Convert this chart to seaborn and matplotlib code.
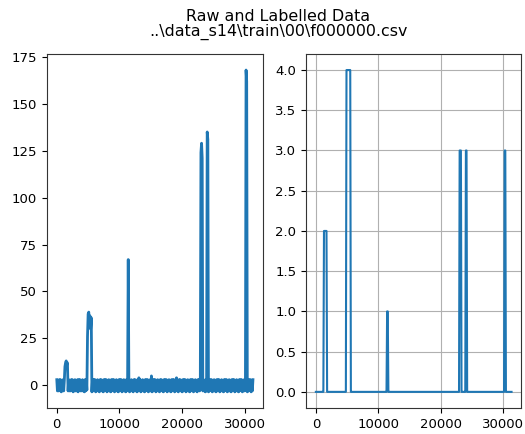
import numpy as np
import matplotlib
matplotlib.use("Agg")
import matplotlib.pyplot as plt
import seaborn as sns

# raw readings, one value every 100 samples
sample_step = 100
raw_values = [
	3, -3, 2.5, -3, 3, -2.5, 3, -3.5, 2.5, -3, 3, -3, 2.5, 10, 12, 13, 11, 12, -3, 3,
	-3, 2.5, -3, 3, -2.5, 3, -3.5, 2.5, -3, 3, -3, 2.5, -3, 3, -3.5, 3, -2.5, 3, -3, 2.5,
	-3, 3, -3, 2.5, -3.5, 3, -3, 3, -2.5, 26, 38, 39, 34, 37, 30, 36, -3.5, 3, -3, 3,
	-2.5, 3, -3.5, 2.5, -3, 3, -3, 2.5, -3.5, 3, -2.5, 3, -3, 2.5, -3.5, 3, -3, 3, -2.5, 3,
	-3.5, 2.5, -3, 3, -3, 2.5, -3.5, 3, -3, 3, -2.5, 3, -3.5, 2.5, -3, 3, -3, 2.5, -3.5, 3,
	-3, 3, -2.5, 3, -3.5, 2.5, -3, 3, -3, 2.5, -3.5, 3, -3, 3, 67, 3, -3.5, 2.5, -3, 3,
	-3, 2.5, -3.5, 3, -2.5, 3, -3, 2.5, -3.5, 3, -3, 4, -2.5, 3, -3.5, 2.5, -3, 3, -3, 2.5,
	-3.5, 3, -3, 3, -2.5, 3, -3.5, 2.5, -3, 3, -3, 5, -3.5, 3, -3, 3, -2.5, 3, -3.5, 2.5,
	-3, 3, -3, 2.5, -3.5, 3, -2.5, 3, -3, 2.5, -3.5, 3, -3, 3, -2.5, 3, -3.5, 2.5, -3, 3,
	-3, 2.5, -3.5, 3, -3, 3, -2.5, 3, -3.5, 2.5, -3, 4, -3, 2.5, -3.5, 3, -2.5, 3, -3, 2.5,
	-3.5, 3, -3, 3, -2.5, 3, -3.5, 2.5, -3, 3, -3, 2.5, -3.5, 3, -3, 3, -2.5, 3, -3.5, 2.5,
	-3, 3, -3, 2.5, -3.5, 3, -2.5, 3, -3, 2.5, 124, 129, 121, -3, 3, -3, 2.5, -3.5, 3, -3,
	135, 131, -3.5, 3, -3, 3, -2.5, 3, -3.5, 2.5, -3, 3, -3, 2.5, -3.5, 3, -3, 3, -2.5, 3,
	-3.5, 2.5, -3, 3, -3, 2.5, -3.5, 3, -3, 3, -2.5, 3, -3.5, 2.5, -3, 3, -3, 2.5, -3.5, 3,
	-3, 3, -2.5, 3, -3.5, 2.5, -3, 3, -3, 2.5, -3.5, 3, -3, 3, -2.5, 3, -3.5, 2.5, -3, 3,
	-3, 2.5, 168, 162, -3.5, 3, -3, 3, -2.5, 3, -3.5, 2.5, -3, 3,
]

# labelled segments
label_start = [1300, 4900, 11400, 23000, 24000, 30200]
label_end = [1700, 5500, 11500, 23200, 24100, 30300]
label_value = [2, 4, 1, 3, 3, 3]

title = "Raw and Labelled Data\n..\\data_s14\\train\\00\\f000000.csv"

sample = np.arange(len(raw_values)) * sample_step
labels = np.zeros(len(raw_values))
for s, e, v in zip(label_start, label_end, label_value):
	labels[(sample >= s) & (sample <= e)] = v

# keep every zigzag point of the noise band
plt.rcParams["path.simplify"] = False

font_size = 9.5
fig = plt.figure(figsize=(5.25, 4.34), dpi=100)
ax1 = fig.add_axes([0.0895, 0.060, 0.411, 0.8157])
ax2 = fig.add_axes([0.583, 0.060, 0.41, 0.8157])

sns.lineplot(x=sample, y=raw_values, ax=ax1, linewidth=2, color="#1f77b4")
sns.lineplot(x=sample, y=labels, ax=ax2, linewidth=1.5, color="#1f77b4")

ax1.set_yticks(np.arange(0, 176, 25))
ax2.set_yticks(np.arange(0, 4.01, 0.5))
for ax in (ax1, ax2):
	ax.set_xticks([0, 10000, 20000, 30000])
	ax.tick_params(labelsize=font_size)
	ax.set_xlabel("")
	ax.set_ylabel("")
	for side in ax.spines.values():
		side.set_edgecolor("#333333")
ax2.grid(True)

fig.suptitle(title, x=0.53, y=0.98, va="top", fontsize=11.4, linespacing=1.0)
fig.savefig("out.png", dpi=100)
